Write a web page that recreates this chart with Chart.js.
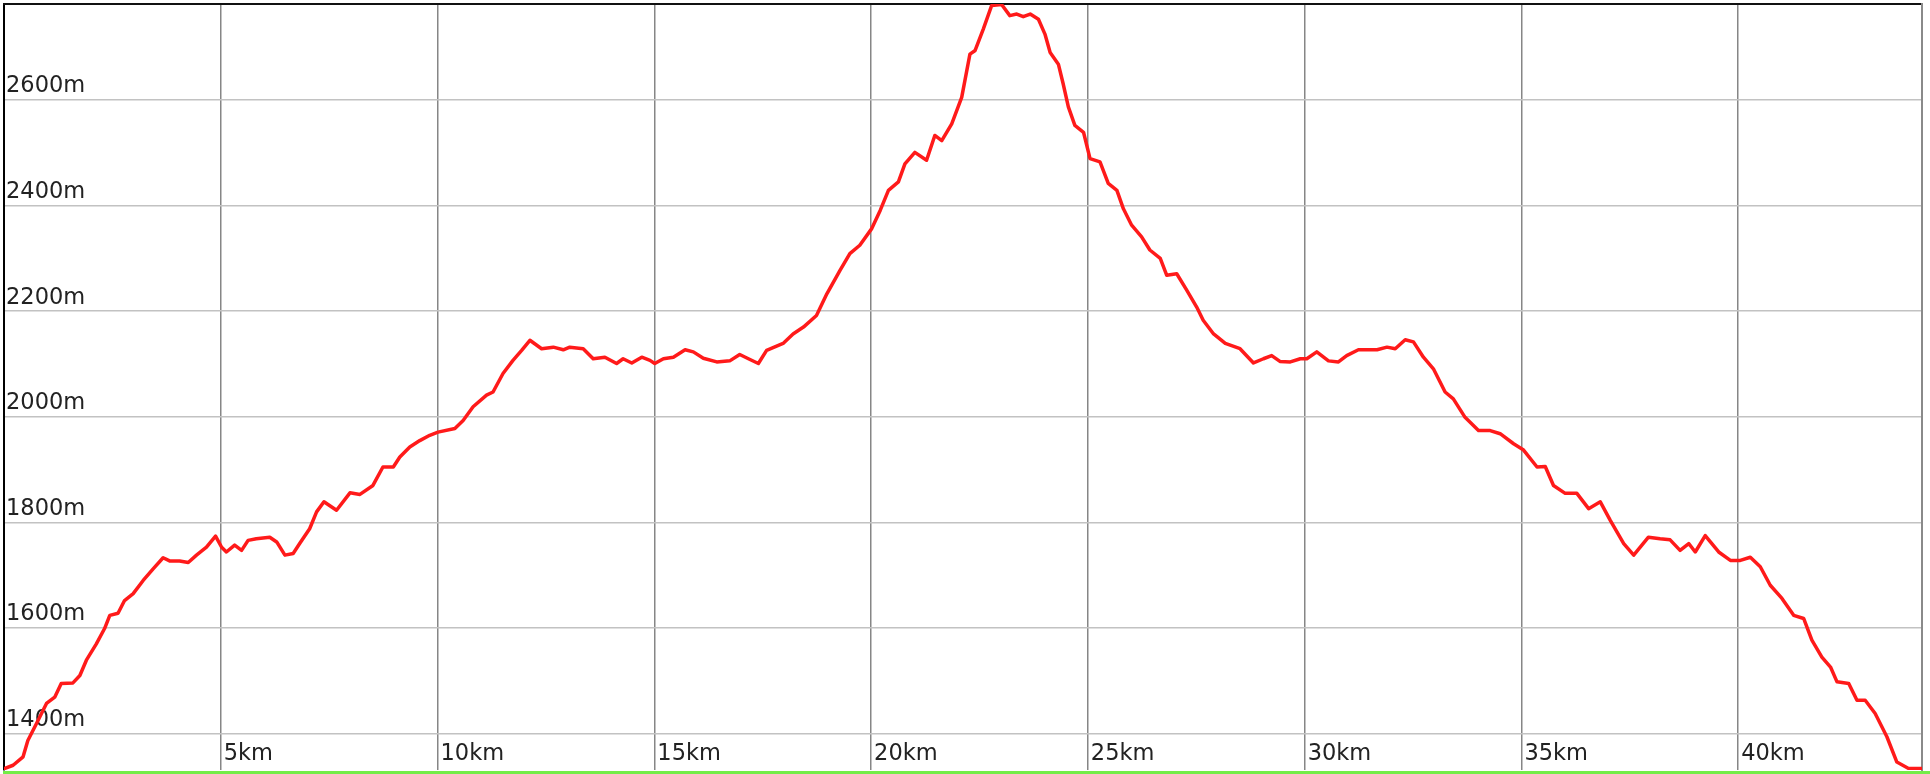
<!DOCTYPE html>
<html><head><meta charset="utf-8">
<script src="https://cdn.jsdelivr.net/npm/chart.js@4.4.1/dist/chart.umd.min.js"></script>
<style>html,body{margin:0;padding:0;background:#fff;overflow:hidden}canvas{display:block}</style>
</head><body>
<canvas id="c" width="1930" height="774"></canvas>
<script>
const distanceKm = [
0.02,0.21,0.44,0.55,0.75,0.98,1.17,1.32,1.59,1.75,1.90,2.13,2.32,2.44,2.63,2.78,2.98,3.21,3.44,3.67,
3.82,4.05,4.25,4.44,4.67,4.88,5.02,5.13,5.32,5.48,5.63,5.82,6.13,6.29,6.48,6.67,6.82,7.05,7.21,7.38,
7.67,7.98,8.21,8.51,8.74,8.98,9.13,9.36,9.59,9.82,10.01,10.40,10.59,10.82,11.13,11.28,11.51,11.74,11.94,12.13,
12.40,12.67,12.90,13.05,13.36,13.59,13.86,14.13,14.28,14.48,14.71,14.90,15.01,15.21,15.44,15.71,15.90,16.13,16.44,16.74,
16.97,17.17,17.40,17.59,17.97,18.20,18.44,18.74,18.98,19.28,19.51,19.74,20.01,20.21,20.40,20.63,20.78,21.01,21.28,21.47,
21.63,21.86,22.09,22.28,22.40,22.59,22.78,23.01,23.20,23.36,23.51,23.67,23.86,24.01,24.13,24.32,24.43,24.55,24.70,24.90,
25.05,25.28,25.47,25.67,25.82,26.01,26.24,26.43,26.67,26.82,27.05,27.28,27.51,27.66,27.90,28.17,28.51,28.82,29.05,29.24,
29.43,29.67,29.90,30.05,30.28,30.55,30.78,30.97,31.24,31.67,31.90,32.09,32.32,32.51,32.74,32.97,33.24,33.43,33.70,34.01,
34.28,34.51,34.82,35.05,35.36,35.55,35.74,36.01,36.28,36.55,36.82,37.05,37.36,37.59,37.93,38.20,38.43,38.66,38.86,39.01,
39.24,39.55,39.82,40.05,40.28,40.51,40.74,41.01,41.28,41.51,41.70,41.93,42.13,42.28,42.55,42.74,42.93,43.16,43.43,43.66,
43.93,44.24
];
const elevationM = [
1334,1340,1356,1387,1419,1457,1469,1495,1496,1510,1539,1570,1599,1624,1628,1652,1665,1690,1712,1733,
1727,1727,1724,1738,1753,1774,1753,1744,1757,1747,1766,1769,1772,1763,1738,1741,1760,1788,1820,1839,
1823,1856,1853,1870,1905,1905,1924,1943,1955,1965,1971,1978,1993,2019,2041,2047,2082,2107,2126,2145,
2129,2132,2127,2132,2129,2110,2113,2101,2110,2102,2113,2107,2101,2110,2113,2127,2123,2111,2104,2106,
2118,2110,2101,2126,2139,2157,2170,2192,2233,2277,2309,2325,2356,2391,2429,2445,2479,2501,2486,2533,
2523,2555,2605,2687,2694,2735,2779,2781,2760,2763,2758,2763,2753,2725,2690,2668,2631,2587,2552,2539,
2489,2483,2442,2429,2394,2363,2341,2316,2300,2268,2271,2240,2208,2183,2157,2139,2129,2102,2110,2116,
2105,2104,2110,2110,2123,2106,2104,2116,2127,2127,2132,2129,2146,2142,2113,2091,2047,2034,1999,1974,
1974,1968,1949,1937,1905,1906,1870,1855,1855,1826,1839,1804,1760,1738,1772,1769,1767,1747,1760,1744,
1775,1744,1728,1728,1734,1716,1681,1656,1624,1618,1577,1545,1526,1498,1495,1463,1463,1438,1394,1346,
1334,1334
];
const xTickValues = [5, 10, 15, 20, 25, 30, 35, 40];
const xTickLabels = ['5km', '10km', '15km', '20km', '25km', '30km', '35km', '40km'];
const yTickValues = [1400, 1600, 1800, 2000, 2200, 2400, 2600];
const yTickLabels = ['1400m', '1600m', '1800m', '2000m', '2200m', '2400m', '2600m'];

const points = distanceKm.map((d, i) => ({ x: d, y: elevationM[i] }));

const stripPlugin = {
  id: 'strip',
  beforeDraw(chart) {
    const { ctx, chartArea } = chart;
    ctx.save();
    ctx.fillStyle = '#74ec48';
    ctx.fillRect(chartArea.left - 1, chartArea.bottom + 1, chart.width, chart.height - chartArea.bottom);
    ctx.restore();
  }
};

const labelFont = { family: '"DejaVu Sans", Verdana, sans-serif', size: 22.5 };

new Chart(document.getElementById('c'), {
  type: 'line',
  data: { datasets: [{ data: points, borderColor: '#ff1a1a', borderWidth: 3.5, borderJoinStyle: 'round', borderCapStyle: 'round', pointRadius: 0, tension: 0, fill: false }] },
  options: {
    responsive: false, animation: false, devicePixelRatio: 1,
    layout: { padding: { left: 0, right: 8, top: 0, bottom: 0 } },
    plugins: { legend: { display: false }, tooltip: { enabled: false } },
    scales: {
      x: {
        type: 'linear', position: 'bottom', min: 0, max: 44.24,
        afterBuildTicks: s => { s.ticks = xTickValues.map(v => ({ value: v })); },
        grid: { color: '#868686', lineWidth: 1.5, drawTicks: false },
        border: { display: false },
        ticks: {
          mirror: true, align: 'start', padding: 2, labelOffset: 3, color: '#222',
          font: labelFont, maxRotation: 0, autoSkip: false,
          callback: v => { const i = xTickValues.indexOf(v); return i < 0 ? '' : xTickLabels[i]; }
        }
      },
      y: {
        type: 'linear', position: 'left', min: 1331, max: 2782,
        afterBuildTicks: s => { s.ticks = yTickValues.map(v => ({ value: v })); },
        grid: { color: '#c2c2c2', lineWidth: 1.5, drawTicks: false },
        border: { display: true, color: '#000', width: 2 },
        ticks: {
          mirror: true, padding: 2, labelOffset: -13.5, color: '#222',
          font: Object.assign({}, labelFont, { lineHeight: '4px' }), autoSkip: false,
          callback: v => { const i = yTickValues.indexOf(v); return i < 0 ? '' : yTickLabels[i]; }
        }
      },
      xTop: { type: 'linear', axis: 'x', position: 'top', grid: { display: false, drawTicks: false }, ticks: { display: false }, border: { display: true, color: '#111', width: 2 } },
      yRight: { type: 'linear', axis: 'y', position: 'right', grid: { display: false, drawTicks: false }, ticks: { display: false }, border: { display: true, color: '#8a8a8a', width: 2 } }
    }
  },
  plugins: [stripPlugin]
});
</script>
</body></html>
